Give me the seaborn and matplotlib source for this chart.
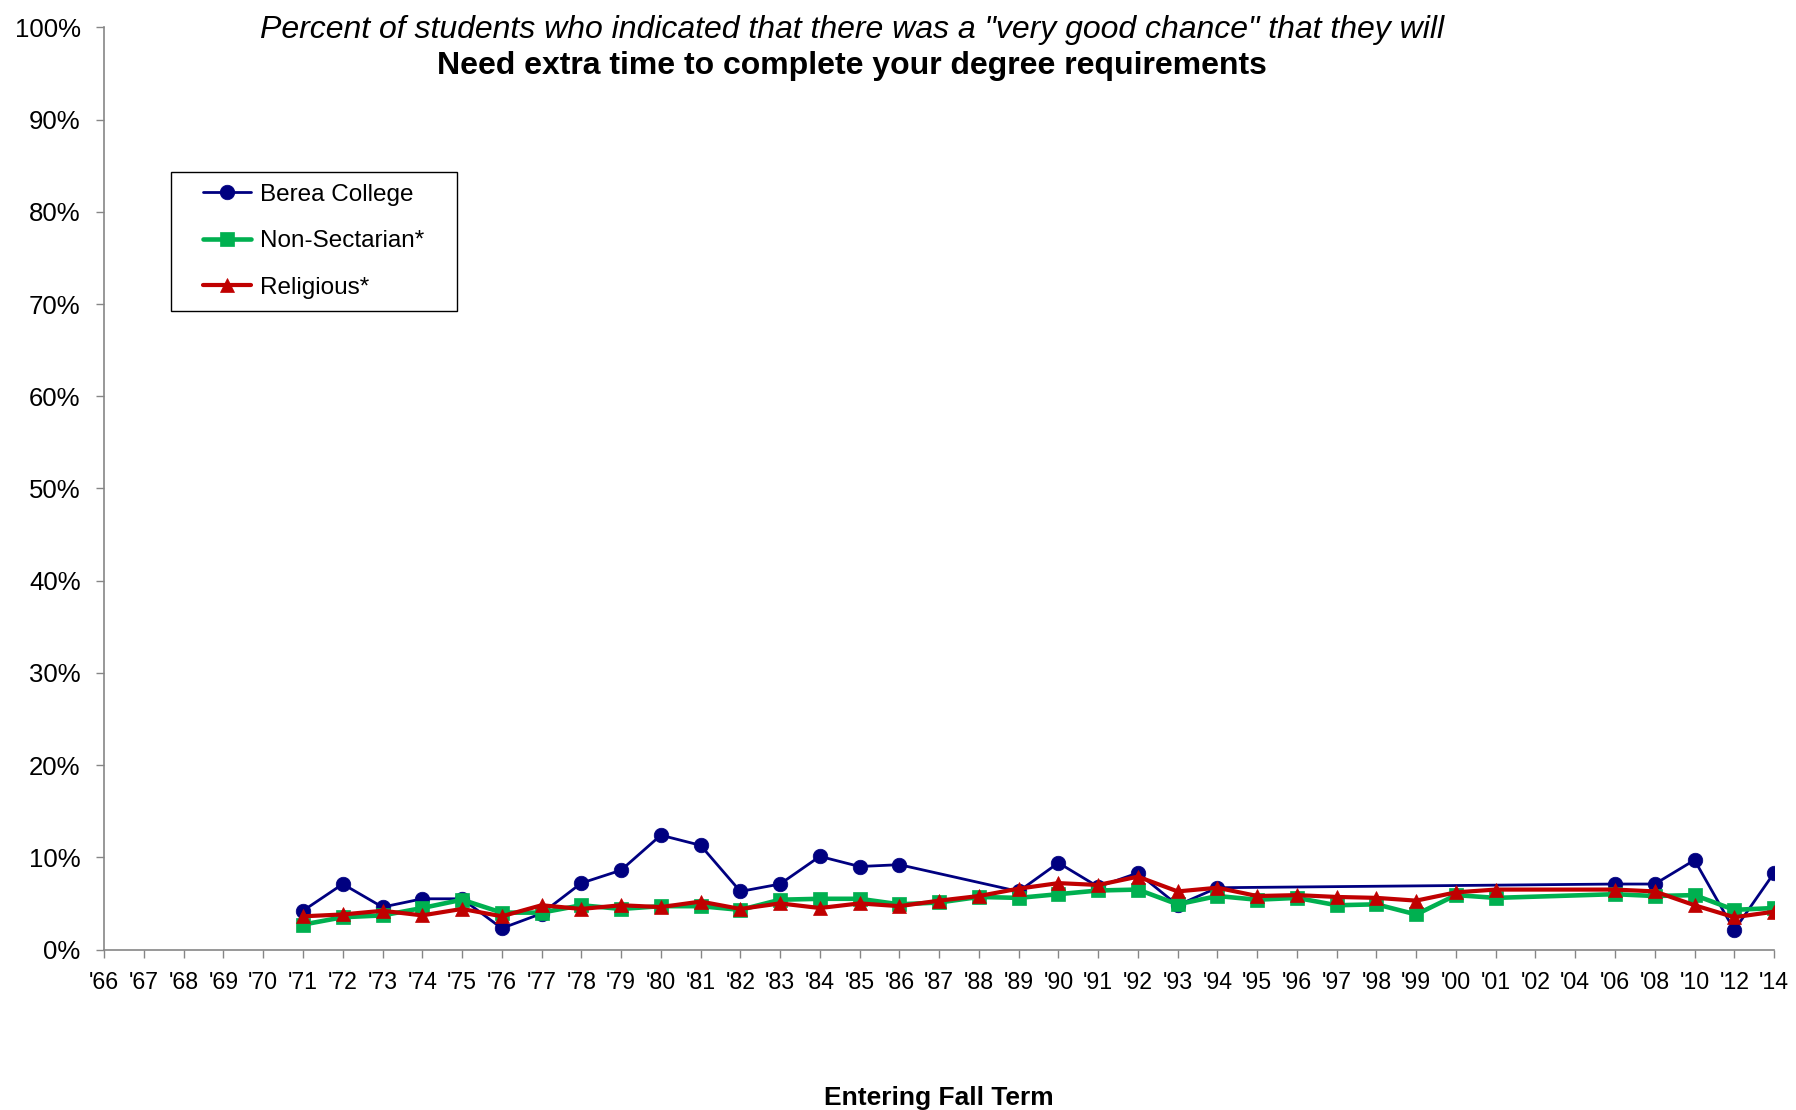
import numpy as np
import pandas as pd
import matplotlib
matplotlib.use("Agg")
import matplotlib.pyplot as plt
from matplotlib.legend_handler import HandlerLine2D
import seaborn as sns

# ---------------- data ----------------
year_labels = ["'66", "'67", "'68", "'69", "'70", "'71", "'72", "'73", "'74", "'75",
               "'76", "'77", "'78", "'79", "'80", "'81", "'82", "'83", "'84", "'85",
               "'86", "'87", "'88", "'89", "'90", "'91", "'92", "'93", "'94", "'95",
               "'96", "'97", "'98", "'99", "'00", "'01", "'02", "'04", "'06", "'08",
               "'10", "'12", "'14"]

nan = np.nan
berea = [nan, nan, nan, nan, nan, 4.2, 7.1, 4.6, 5.5, 5.5,
         2.3, 3.9, 7.2, 8.6, 12.4, 11.3, 6.3, 7.1, 10.1, 9.0,
         9.2, nan, nan, 6.3, 9.4, 6.8, 8.3, 4.8, 6.7, nan,
         nan, nan, nan, nan, nan, nan, nan, nan, 7.1, 7.1,
         9.7, 2.1, 8.3]
non_sectarian = [nan, nan, nan, nan, nan, 2.7, 3.5, 3.7, 4.5, 5.4,
                 4.0, 4.0, 4.8, 4.4, 4.7, 4.7, 4.3, 5.4, 5.5, 5.5,
                 4.9, 5.1, 5.7, 5.6, 6.0, 6.4, 6.5, 4.9, 5.8, 5.4,
                 5.6, 4.8, 4.9, 3.8, 5.9, 5.6, nan, nan, 6.0, 5.8,
                 5.9, 4.3, 4.5]
religious = [nan, nan, nan, nan, nan, 3.6, 3.8, 4.2, 3.7, 4.4,
             3.6, 4.8, 4.4, 4.8, 4.6, 5.2, 4.4, 5.0, 4.5, 5.0,
             4.7, 5.3, 5.8, 6.6, 7.2, 7.0, 7.9, 6.3, 6.7, 5.8,
             5.9, 5.7, 5.6, 5.3, 6.2, 6.5, nan, nan, 6.5, 6.3,
             4.8, 3.5, 4.1]

series_names = ["Berea College", "Non-Sectarian*", "Religious*"]
y_ticks = [0, 10, 20, 30, 40, 50, 60, 70, 80, 90, 100]

title_line1 = 'Percent of students who indicated that there was a "very good chance" that they will'
title_line2 = "Need extra time to complete your degree requirements"
x_title = "Entering Fall Term"

# ---------------- style ----------------
sns.set_style("white")
plt.rcParams["font.family"] = ["Liberation Sans", "DejaVu Sans"]
plt.rcParams["text.color"] = "black"
plt.rcParams["axes.labelcolor"] = "black"
plt.rcParams["xtick.color"] = "black"
plt.rcParams["ytick.color"] = "black"

styles = {
    "Berea College": dict(color="#000080", marker="o", markersize=10.5, linewidth=2.0, zorder=3),
    "Non-Sectarian*": dict(color="#00B050", marker="s", markersize=9.5, linewidth=3.3, zorder=4),
    "Religious*": dict(color="#C00000", marker="^", markersize=10.5, linewidth=3.0, zorder=5),
}

frames = []
for name, vals in zip(series_names, [berea, non_sectarian, religious]):
    frames.append(pd.DataFrame({"pos": np.arange(len(year_labels)), "value": vals, "series": name}))
df = pd.concat(frames).dropna()

fig = plt.figure(figsize=(17.96, 11.10), dpi=100)
ax = fig.add_axes([0.05802, 0.14459, 0.92975, 0.83064])

for name in series_names:
    st = styles[name]
    sub = df[df["series"] == name]
    sns.lineplot(data=sub, x="pos", y="value", ax=ax, label=name,
                 color=st["color"], marker=st["marker"], markersize=st["markersize"],
                 linewidth=st["linewidth"], markeredgecolor=st["color"],
                 markeredgewidth=0.5, errorbar=None, zorder=st["zorder"])

ax.set_xlim(0, len(year_labels) - 1)
ax.set_ylim(0, 100)
ax.set_xticks(np.arange(len(year_labels)))
ax.set_xticklabels(year_labels)
ax.set_yticks(y_ticks)
ax.set_yticklabels([f"{t}%" for t in y_ticks])

axis_gray = "#868686"
for s in ["top", "right"]:
    ax.spines[s].set_visible(False)
for s in ["left", "bottom"]:
    ax.spines[s].set_color(axis_gray)
    ax.spines[s].set_linewidth(1.2)
ax.tick_params(axis="x", direction="out", length=5.5, width=1.0, color=axis_gray,
               labelsize=16.7, pad=10, labelcolor="black", bottom=True)
ax.tick_params(axis="y", direction="out", length=5.5, width=1.0, color=axis_gray,
               labelsize=18.5, pad=11.5, labelcolor="black", left=True)
ax.grid(False)

ax.set_ylabel("")
ax.set_xlabel(x_title, fontsize=19, fontweight="bold", color="black")
ax.xaxis.set_label_coords(0.5, -0.1615)
ax.xaxis.label.set_va("center")

fig.text(0.4744, 0.9734, title_line1, fontsize=23, fontstyle="italic",
         ha="center", va="center", color="black")
fig.text(0.4744, 0.9405, title_line2, fontsize=23, fontweight="bold",
         ha="center", va="center", color="black")

fs = 17.5
leg = ax.legend(loc="upper left", bbox_to_anchor=(0.0398, 0.55, 0.1715, 0.2935),
                mode="expand", fontsize=fs,
                frameon=True, fancybox=False, edgecolor="black", framealpha=1,
                handlelength=2.816, handletextpad=0.38, labelspacing=1.0,
                borderpad=0.5, borderaxespad=0,
                handler_map={plt.Line2D: HandlerLine2D(xpad=0.817)})
leg.get_frame().set_linewidth(1.0)
for t in leg.get_texts():
    t.set_color("black")

fig.savefig("out.png", dpi=100)
